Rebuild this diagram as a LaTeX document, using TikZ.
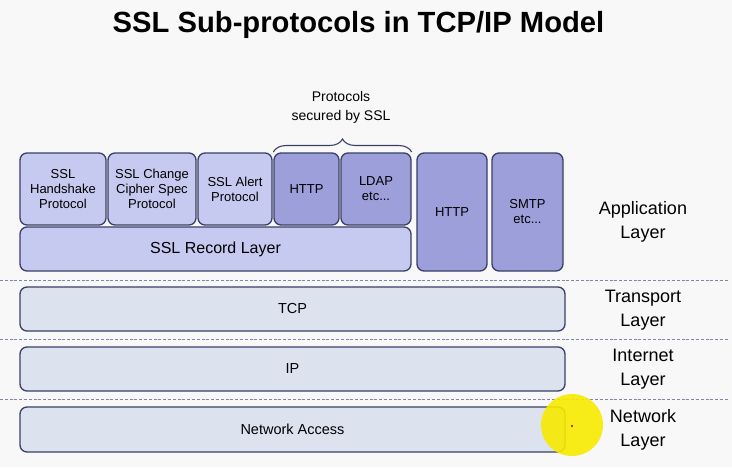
\documentclass[tikz,border=0pt]{standalone}
\usepackage{fontspec}
\setmainfont{Liberation Sans}
\usetikzlibrary{decorations.pathreplacing}
\definecolor{bg}{HTML}{F8F8F8}
\definecolor{applight}{HTML}{C6C9F0}
\definecolor{appdark}{HTML}{9C9FDA}
\definecolor{lowbox}{HTML}{DCE3EF}
\definecolor{edge}{HTML}{3B3F66}
\definecolor{dashc}{HTML}{7F87A8}
\definecolor{hl}{HTML}{F7EA00}
\tikzset{
  x=1pt, y=-1pt,
  pbox/.style={draw=edge, line width=1.3pt, rounded corners=7pt, inner sep=0pt, align=center, font=\fontsize{13}{15}\selectfont},
  lightbox/.style={pbox, fill=applight},
  darkbox/.style={pbox, fill=appdark},
  lowerbox/.style={pbox, fill=lowbox, font=\fontsize{14.5}{16}\selectfont},
  layerlbl/.style={align=center, font=\fontsize{18}{23.5}\selectfont},
  sep/.style={draw=dashc, line width=1pt, dash pattern=on 3pt off 1.8pt}
}
\newcommand{\boxat}[6]{\node[#1, minimum width=#4-#2, minimum height=#5-#3] (#6) at ({(#2+#4)/2},{(#3+#5)/2})}
\begin{document}
\begin{tikzpicture}
\fill[bg] (0,0) rectangle (732,467);
\useasboundingbox (0,0) rectangle (732,467);

\node[font=\fontsize{29.2}{31}\bfseries] (title) at (358.5,25) {SSL Sub-protocols in TCP/IP Model};

% application layer boxes
\boxat{lightbox}{20}{153}{106}{225}{hs} {SSL\\Handshake\\Protocol};
\boxat{lightbox}{108}{153}{196}{225}{ccs} {SSL Change\\Cipher Spec\\Protocol};
\boxat{lightbox}{198}{153}{272}{225}{alert} {SSL Alert\\Protocol};
\boxat{darkbox}{274}{153}{339}{225}{http1} {HTTP};
\boxat{darkbox}{341}{153}{411}{225}{ldap} {LDAP\\etc...};
\boxat{lightbox}{20}{227}{411}{271}{rec} {\fontsize{16}{18}\selectfont SSL Record Layer};
\boxat{darkbox}{417}{153}{487}{271}{http2} {HTTP};
\boxat{darkbox}{492}{153}{563}{271}{smtp} {SMTP\\etc...};

% brace
\draw[edge, line width=1.1pt, decorate, decoration={brace, amplitude=13pt}] (http1.north west |- 0,152) coordinate (bl) -- (ldap.north east |- 0,152) coordinate (br);
\node[font=\fontsize{14}{19}\selectfont, align=center] (sec) at (341,107) {Protocols\\secured by SSL};

% lower boxes
\boxat{lowerbox}{20}{287}{565}{331}{tcp} {TCP};
\boxat{lowerbox}{20}{347}{565}{391}{ip} {IP};
\boxat{lowerbox}{20}{407}{565}{452}{na} {Network Access};

% dashed separators
\coordinate (s1l) at (0,280); \coordinate (s1r) at (728,280);
\coordinate (s2l) at (0,339); \coordinate (s2r) at (728,339);
\coordinate (s3l) at (0,399); \coordinate (s3r) at (728,399);
\draw[sep] (s1l) -- (s1r);
\draw[sep] (s2l) -- (s2r);
\draw[sep] (s3l) -- (s3r);

% layer labels
\node[layerlbl] (lapp) at (643,222) {Application\\Layer};
\node[layerlbl] (ltr) at (643,310) {Transport\\Layer};
\node[layerlbl] (lin) at (643,369) {Internet\\Layer};
\node[layerlbl] (lnet) at (643,430) {Network\\Layer};

% cursor highlight
\fill[hl, opacity=0.9] (572,425) ellipse (31pt and 31pt);
\fill[red!55!black] (572,426) circle (1.2pt);
\end{tikzpicture}
\end{document}
